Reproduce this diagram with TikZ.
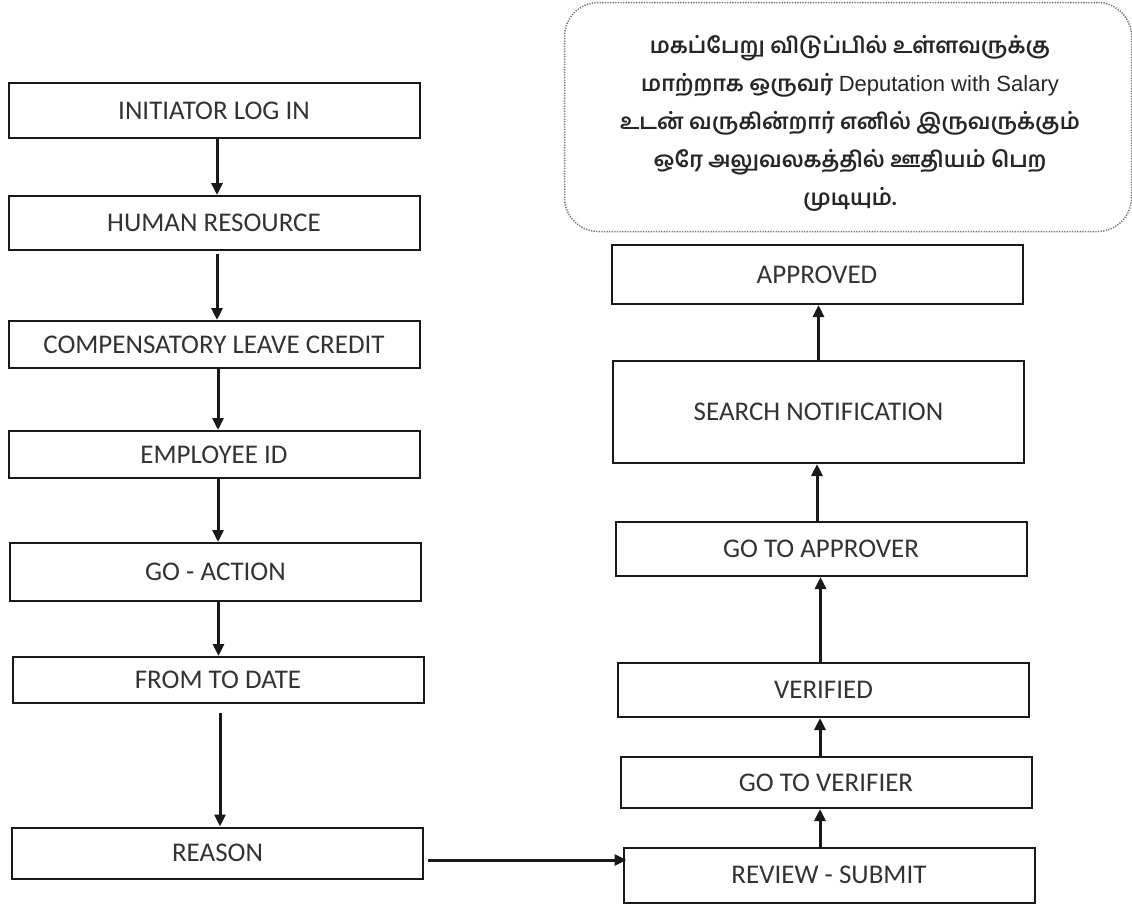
\documentclass[tikz,border=0pt]{standalone}
\usepackage{fontspec}
\setmainfont{Carlito}
\newfontfamily\tamilfont[Script=Tamil]{Hind Madurai}
\newfontfamily\latinsans{Liberation Sans}
\usetikzlibrary{arrows.meta,calc}

\tikzset{
  stepbox/.style={draw=black!90, line width=2pt, inner sep=0pt,
    minimum width=411pt, font=\fontsize{27}{30}\selectfont, text=black!80},
  flow/.style={-{Triangle[length=12pt,width=11pt]}, line width=3pt, draw=black!90},
  notebox/.style={draw=black!55, line width=1.5pt, dash pattern=on 1.3pt off 1.3pt,
    rounded corners=34pt, minimum width=567pt, minimum height=229pt, inner sep=0pt},
  notetext/.style={align=center, inner sep=0pt, text=black!85,
    font=\tamilfont\bfseries\fontsize{22}{38}\selectfont}
}

\begin{document}
\begin{tikzpicture}[x=1pt,y=-1pt]
\useasboundingbox (0,0) rectangle (1132,906);

% left column
\node[stepbox, minimum height=55pt] (init)   at (214,110.5) {INITIATOR LOG IN};
\node[stepbox, minimum height=54pt] (hr)     at (214,223)   {HUMAN RESOURCE};
\node[stepbox, minimum height=47pt] (clc)    at (214,344.5) {COMPENSATORY LEAVE CREDIT};
\node[stepbox, minimum height=47pt] (emp)    at (214,454.5) {EMPLOYEE ID};
\node[stepbox, minimum height=58pt] (goact)  at (215.5,572) {GO - ACTION};
\node[stepbox, minimum height=46pt] (ftd)    at (218,680)   {FROM TO DATE};
\node[stepbox, minimum height=51pt] (reason) at (217.5,853) {REASON};

% right column
\node[stepbox, minimum height=59pt]  (appr)   at (817,274.5) {APPROVED};
\node[stepbox, minimum height=102pt] (search) at (818.5,412) {SEARCH NOTIFICATION};
\node[stepbox, minimum height=54pt]  (gta)    at (821,549)   {GO TO APPROVER};
\node[stepbox, minimum height=54pt]  (ver)    at (823.5,690) {VERIFIED};
\node[stepbox, minimum height=51pt]  (gtv)    at (826,782.5) {GO TO VERIFIER};
\node[stepbox, minimum height=55pt]  (review) at (829,875)   {REVIEW - SUBMIT};

% note
\node[notebox] (note) at (848,117) {};
\node[notetext] (notetxt) at (850,123)
  {மகப்பேறு விடுப்பில் உள்ளவருக்கு\\
   மாற்றாக ஒருவர் {\latinsans\mdseries Deputation with Salary}\\
   உடன் வருகின்றார் எனில் இருவருக்கும்\\
   ஒரே அலுவலகத்தில் ஊதியம் பெற\\
   முடியும்.};

% left flow
\draw[flow] ([xshift=3pt]init.south) -- ([xshift=3pt]init.south |- hr.north);
\draw[flow] ([xshift=3pt,yshift=-3pt]hr.south) -- ([xshift=3pt]hr.south |- clc.north);
\draw[flow] ([xshift=4pt]clc.south) -- ([xshift=4pt]clc.south |- emp.north);
\draw[flow] ([xshift=4pt]emp.south) -- ([xshift=4pt]emp.south |- goact.north);
\draw[flow] ([xshift=3pt]goact.south) -- ([xshift=3pt]goact.south |- ftd.north);
\draw[flow] ([xshift=2pt,yshift=-9pt]ftd.south) -- ([xshift=2pt]ftd.south |- reason.north);

% across
\draw[flow] ([xshift=4pt,yshift=-7pt]reason.east) -- ([xshift=4pt,yshift=-7pt]reason.east -| review.west);

% right flow
\draw[flow] ([xshift=-9pt]review.north) -- ([xshift=-9pt]review.north |- gtv.south);
\draw[flow] ([xshift=-6pt]gtv.north) -- ([xshift=-6pt]gtv.north |- ver.south);
\draw[flow] ([xshift=-3pt]ver.north) -- ([xshift=-3pt]ver.north |- gta.south);
\draw[flow] ([xshift=-4pt]gta.north) -- ([xshift=-4pt]gta.north |- search.south);
\draw[flow] (search.north) -- (search.north |- appr.south);
\end{tikzpicture}
\end{document}
